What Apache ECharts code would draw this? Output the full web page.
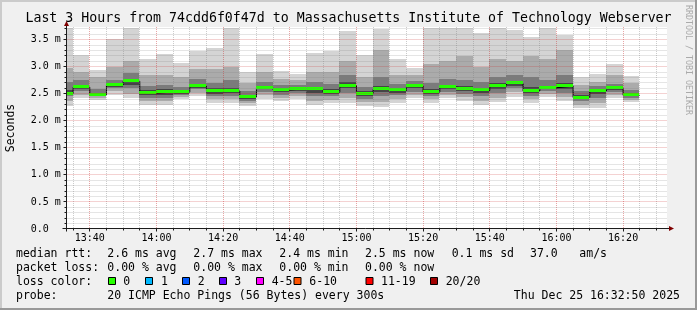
<!DOCTYPE html>
<html><head><meta charset="utf-8">
<script src="https://cdn.jsdelivr.net/npm/echarts@6/dist/echarts.min.js"></script>
<style>html,body{margin:0;padding:0;background:#f0f0f0;}#c{width:697px;height:310px;}</style>
</head><body><div id="c"></div>
<script>
// ---------- data ----------
const binStarts = ['13:30','13:35','13:40','13:45','13:50','13:55','14:00','14:05','14:10','14:15',
  '14:20','14:25','14:30','14:35','14:40','14:45','14:50','14:55','15:00','15:05',
  '15:10','15:15','15:20','15:25','15:30','15:35','15:40','15:45','15:50','15:55',
  '16:00','16:05','16:10','16:15','16:20'];
const binMinutes = 5;
// smoke bands (ms): outer -> inner
const smokeMin = [2.27,2.42,2.38,2.47,2.42,2.30,2.30,2.40,2.46,2.33,2.33,2.27,2.41,2.36,2.41,2.29,2.32,2.33,2.28,2.26,2.32,2.42,2.33,2.42,2.37,2.29,2.35,2.44,2.32,2.44,2.36,2.23,2.24,2.43,2.35];
const smokeLo2 = [2.36,2.48,2.42,2.55,2.50,2.36,2.37,2.44,2.52,2.40,2.40,2.32,2.47,2.42,2.46,2.37,2.39,2.42,2.35,2.35,2.40,2.48,2.40,2.48,2.44,2.37,2.43,2.53,2.40,2.50,2.44,2.30,2.32,2.48,2.39];
const smokeLo3 = [2.45,2.55,2.45,2.60,2.60,2.42,2.43,2.47,2.58,2.45,2.46,2.37,2.53,2.48,2.51,2.45,2.45,2.52,2.41,2.45,2.47,2.54,2.45,2.54,2.50,2.45,2.52,2.60,2.46,2.55,2.52,2.36,2.42,2.53,2.43];
const smokeLo4 = [2.48,2.58,2.46,2.63,2.67,2.47,2.48,2.50,2.61,2.50,2.51,2.41,2.58,2.53,2.55,2.52,2.49,2.60,2.46,2.53,2.52,2.60,2.49,2.59,2.55,2.51,2.59,2.65,2.51,2.58,2.59,2.40,2.49,2.57,2.45];
const medianRtt = [2.50,2.62,2.48,2.66,2.73,2.51,2.53,2.53,2.64,2.55,2.55,2.44,2.61,2.57,2.59,2.58,2.53,2.65,2.50,2.58,2.56,2.64,2.53,2.62,2.59,2.56,2.64,2.69,2.55,2.61,2.64,2.43,2.55,2.60,2.47];
const smokeHi4 = [2.56,2.66,2.52,2.69,2.78,2.56,2.58,2.56,2.68,2.60,2.61,2.48,2.64,2.61,2.62,2.63,2.58,2.72,2.55,2.65,2.60,2.67,2.58,2.66,2.64,2.61,2.69,2.74,2.62,2.65,2.70,2.47,2.59,2.63,2.51];
const smokeHi3 = [2.72,2.75,2.58,2.75,2.88,2.65,2.67,2.62,2.78,2.70,2.75,2.55,2.72,2.66,2.66,2.72,2.68,2.85,2.62,2.80,2.68,2.73,2.70,2.78,2.76,2.72,2.80,2.85,2.80,2.75,2.85,2.55,2.64,2.68,2.57];
const smokeHi2 = [2.98,2.90,2.80,3.00,3.10,2.85,2.85,2.80,2.95,2.95,3.00,2.70,2.90,2.78,2.75,2.90,2.90,3.10,2.80,3.30,2.85,2.85,3.05,3.10,3.20,3.00,3.15,3.10,3.20,3.15,3.30,2.66,2.72,2.85,2.70];
const smokeMax = [3.72,3.22,2.94,3.51,3.72,3.15,3.24,3.06,3.29,3.35,3.71,2.91,3.23,2.92,2.87,3.25,3.29,3.65,3.22,3.70,3.15,2.98,3.71,3.72,3.72,3.62,3.72,3.67,3.54,3.72,3.59,2.81,2.86,3.04,2.82];

const xTickLabels = ['13:40','14:00','14:20','14:40','15:00','15:20','15:40','16:00','16:20'];
const yTickValues = [0,0.5,1.0,1.5,2.0,2.5,3.0,3.5];
const yTickLabels = ['0.0','0.5 m','1.0 m','1.5 m','2.0 m','2.5 m','3.0 m','3.5 m'];
const axisStart = '13:33:10', axisEnd = '16:33:10';
const yMax = 3.733;

const titleText = 'Last 3 Hours from 74cdd6f0f47d to Massachusetts Institute of Technology Webserver';
const rttStats = ['2.6 ms avg','2.7 ms max','2.4 ms min','2.5 ms now','0.1 ms sd','37.0','am/s'];
const lossStats = ['0.00 % avg','0.00 % max','0.00 % min','0.00 % now'];
const lossLabels = ['0','1','2','3','4-5','6-10','11-19','20/20'];
const lossColors = ['#26ff00','#00b8ff','#0059ff','#5e00ff','#ff00ff','#ff5500','#ff0000','#a10000'];
const probeText = '20 ICMP Echo Pings (56 Bytes) every 300s';
const stampText = 'Thu Dec 25 16:32:50 2025';

// ---------- helpers ----------
const toMin = s => { const p = s.split(':').map(Number); return p[0]*60 + p[1] + (p[2]||0)/60; };
const fmtHM = v => { const h = Math.floor(v/60), m = Math.round(v - h*60); return (h<10?'0':'')+h+':'+(m<10?'0':'')+m; };
const xMin = toMin(axisStart), xMax = toMin(axisEnd);
const MONO = '"DejaVu Sans Mono", "Liberation Mono", monospace';
const smokeColors = ['#d4d4d4','#ababab','#7b7b7b','#454545'];
const GRID = 'rgba(128,128,128,0.40)';
const MGRID = 'rgba(200,40,40,0.42)';
const AXIS = '#1c1c1c';
const ARROW = '#7f0000';

const smokeData = binStarts.map((s,i) => [toMin(s), toMin(s)+binMinutes,
  smokeMin[i], smokeLo2[i], smokeLo3[i], smokeLo4[i], smokeHi4[i], smokeHi3[i], smokeHi2[i], smokeMax[i]]);
const medianLine = [];
binStarts.forEach((s,i) => { medianLine.push([toMin(s), medianRtt[i]]); medianLine.push([toMin(s)+binMinutes, medianRtt[i]]); });
const medianBand = binStarts.map((s,i) => [toMin(s), toMin(s)+binMinutes, medianRtt[i]]);

const gridItems = [];
for (let t = Math.ceil(xMin/5)*5; t < xMax; t += 5) gridItems.push([t % 20 === 0 ? 1 : 0, t]);
for (let k = 1; k/10 < yMax; k++) gridItems.push([k % 5 === 0 ? 3 : 2, k/10]);
gridItems.push([4, 0]);

function renderSmoke(params, api) {
  const s = api.value(0), e = api.value(1);
  const pairs = [[2,9],[3,8],[4,7],[5,6]];
  return {type:'group', children: pairs.map((b,k) => {
    const p1 = api.coord([s, api.value(b[1])]);
    const p2 = api.coord([e, api.value(b[0])]);
    const x0 = Math.floor(p1[0]), x1 = Math.floor(p2[0]);
    const y0 = Math.round(p1[1]), y1 = Math.round(p2[1]);
    return {type:'rect', shape:{x:x0, y:y0, width:x1-x0, height:y1-y0}, style:{fill:smokeColors[k]}};
  })};
}
function renderBand(params, api) {
  const p1 = api.coord([api.value(0), api.value(2)]);
  const p2 = api.coord([api.value(1), api.value(2)]);
  const x0 = Math.floor(p1[0]), x1 = Math.floor(p2[0]);
  const y = Math.round(p1[1]) - 2;
  return {type:'rect', shape:{x:x0, y:y, width:x1-x0, height:3}, style:{fill:lossColors[0]}};
}
function renderGrid(params, api) {
  const kind = api.value(0), v = api.value(1);
  const bl = api.coord([xMin, 0]);
  const tr = api.coord([xMax, yMax]);
  const left = Math.round(bl[0]) - 0.5, bottom = Math.round(bl[1]) - 0.5;
  const right = Math.round(tr[0]), top = Math.round(tr[1]);
  if (kind === 0 || kind === 1) {
    const x = Math.floor(api.coord([v, 0])[0]) + 0.5;
    const major = kind === 1;
    return {type:'group', children:[
      {type:'line', shape:{x1:x, y1:top, x2:x, y2:bottom}, style:{stroke: major?MGRID:GRID, lineWidth:1, lineDash:[1,1]}},
      {type:'line', shape:{x1:x, y1:bottom, x2:x, y2:bottom+(major?3:2)}, style:{stroke:AXIS, lineWidth:1}}
    ]};
  }
  if (kind === 2 || kind === 3) {
    const y = Math.floor(api.coord([xMin, v])[1]) + 0.5;
    const major = kind === 3;
    return {type:'group', children:[
      {type:'line', shape:{x1:left, y1:y, x2:right, y2:y}, style:{stroke: major?MGRID:GRID, lineWidth:1, lineDash:[1,1]}},
      {type:'line', shape:{x1:left-(major?3:2), y1:y, x2:left, y2:y}, style:{stroke:AXIS, lineWidth:1}}
    ]};
  }
  // axes with arrows
  return {type:'group', children:[
    {type:'line', shape:{x1:left-4, y1:bottom, x2:right+2, y2:bottom}, style:{stroke:AXIS, lineWidth:1}},
    {type:'line', shape:{x1:left, y1:bottom+3, x2:left, y2:top-1}, style:{stroke:AXIS, lineWidth:1}},
    {type:'polygon', shape:{points:[[right+2, bottom-2.5],[right+7, bottom],[right+2, bottom+2.5]]}, style:{fill:ARROW}},
    {type:'polygon', shape:{points:[[left-2.5, top-1],[left, top-6],[left+2.5, top-1]]}, style:{fill:ARROW}}
  ]};
}

// ---------- text / legend graphics ----------
const g = [];
function T(x, y, text, size, opts) {
  g.push(Object.assign({type:'text', x:x, y:y, silent:true, style:Object.assign({
    text:text, fontFamily:MONO, fontSize:size, fill:'#000',
    align:'left', verticalAlign:'middle', textAlign:'left', textVerticalAlign:'middle'}, (opts&&opts.style)||{})},
    opts && opts.el ? opts.el : {}));
}
// border
g.push({type:'rect', shape:{x:0,y:0,width:697,height:2}, style:{fill:'#cbcbcb'}, silent:true});
g.push({type:'rect', shape:{x:0,y:0,width:2,height:310}, style:{fill:'#cbcbcb'}, silent:true});
g.push({type:'rect', shape:{x:0,y:308,width:697,height:2}, style:{fill:'#999999'}, silent:true});
g.push({type:'rect', shape:{x:695,y:0,width:2,height:310}, style:{fill:'#999999'}, silent:true});

T(348.5, 19, titleText, 13.25, {style:{align:'center', textAlign:'center'}});
T(11, 128, 'Seconds', 11.5, {style:{align:'center', textAlign:'center'}, el:{rotation:Math.PI/2}});
T(688, 5, 'RRDTOOL / TOBI OETIKER', 8.3, {style:{fill:'#aaaaaa'}, el:{rotation:-Math.PI/2}});

const r1 = 254, r2 = 268.3, r3 = 282, r4 = 296.3, LF = 11.5;
T(16, r1, 'median rtt:', LF);
const rttX = [107.3, 193.3, 279.3, 365, 451.7, 530, 579.3];
rttStats.forEach((s,i) => T(rttX[i], r1, s, LF));
T(16, r2, 'packet loss:', LF);
lossStats.forEach((s,i) => T(rttX[i], r2, s, LF));
T(16, r3, 'loss color:', LF);
const boxX = [108.5, 145.5, 182.5, 219.5, 256.5, 294, 366, 430.5];
const lblX = [123.3, 161, 197.7, 234.3, 271.7, 309.3, 381, 445.7];
lossLabels.forEach((s,i) => {
  g.push({type:'rect', silent:true, shape:{x:boxX[i], y:277.5, width:7, height:7}, style:{fill:lossColors[i], stroke:'#000', lineWidth:1}});
  T(lblX[i], r3, s, LF);
});
T(16, r4, 'probe:', LF);
T(107.3, r4, probeText, LF);
T(680, r4, stampText, LF, {style:{align:'right', textAlign:'right'}});

// ---------- chart ----------
const chart = echarts.init(document.getElementById('c'), null, {renderer:'canvas', width:697, height:310});
chart.setOption({
  animation:false,
  backgroundColor:'#f0f0f0',
  grid:{left:67, top:27, width:600, height:202, show:true, backgroundColor:'#ffffff', borderWidth:0},
  xAxis:{type:'value', min:xMin, max:xMax, minInterval:20, maxInterval:20, splitNumber:9,
    axisLine:{show:false}, axisTick:{show:false}, splitLine:{show:false},
    axisLabel:{margin:4, fontFamily:MONO, fontSize:10, color:'#000', showMinLabel:false, showMaxLabel:false,
      formatter: v => { const l = fmtHM(v); return xTickLabels.indexOf(l) >= 0 && Math.abs(v - toMin(l)) < 0.01 ? l : ''; }}},
  yAxis:{type:'value', min:0, max:yMax, interval:0.5,
    axisLine:{show:false}, axisTick:{show:false}, splitLine:{show:false},
    axisLabel:{margin:36.3, align:'left', fontFamily:MONO, fontSize:10, color:'#000', showMaxLabel:false,
      formatter: v => { const i = yTickValues.findIndex(t => Math.abs(t - v) < 1e-6); return i >= 0 ? yTickLabels[i] : ''; }}},
  series:[
    {type:'custom', name:'smoke', data:smokeData, renderItem:renderSmoke, clip:true, silent:true, z:1,
      encode:{x:[0,1], y:[2,3,4,5,6,7,8,9]}},
    {type:'line', name:'median', data:medianLine, symbol:'none', clip:true, silent:true, z:2,
      lineStyle:{color:'#000', width:1}},
    {type:'custom', name:'median loss colour', data:medianBand, renderItem:renderBand, clip:true, silent:true, z:3,
      encode:{x:[0,1], y:2}},
    {type:'custom', name:'grid', data:gridItems, renderItem:renderGrid, clip:false, silent:true, z:5,
      encode:{x:1, y:1}}
  ],
  graphic:{elements:g}
});
</script></body></html>
